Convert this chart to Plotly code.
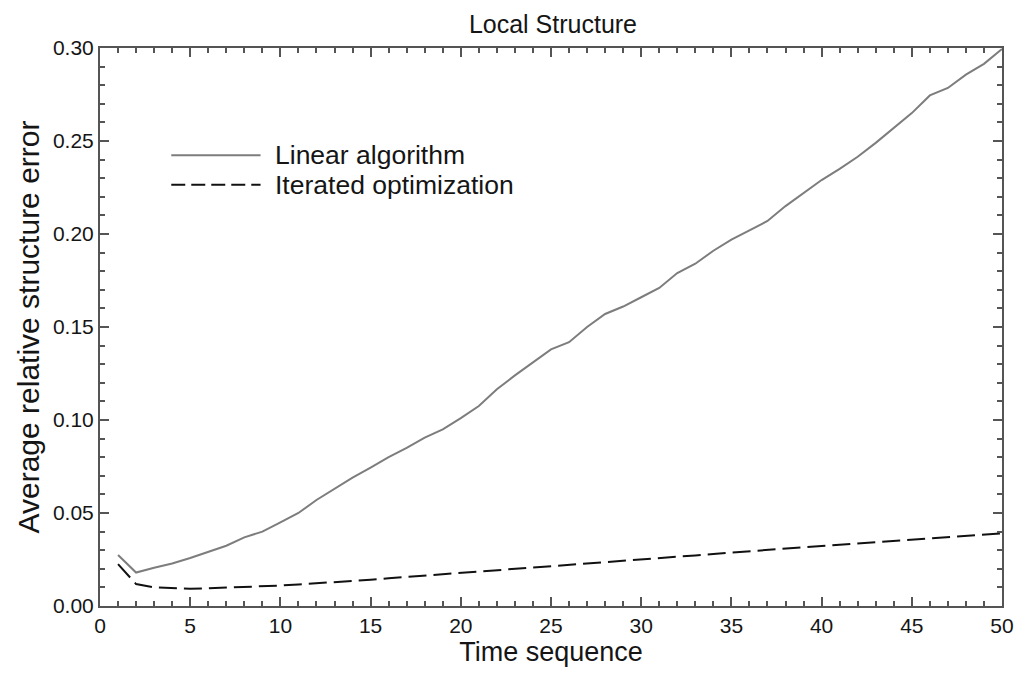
import plotly.graph_objects as go

# Time steps and average relative structure error for both methods
time_seq = list(range(1, 51))

linear_alg = [
    0.0274, 0.0180, 0.0206, 0.0229, 0.0258, 0.0290, 0.0324, 0.0369, 0.0400, 0.0450,
    0.0500, 0.0570, 0.0630, 0.0690, 0.0744, 0.0800, 0.0850, 0.0905, 0.0950, 0.1010,
    0.1075, 0.1165, 0.1240, 0.1310, 0.1380, 0.1418, 0.1500, 0.1570, 0.1610, 0.1660,
    0.1710, 0.1790, 0.1840, 0.1910, 0.1970, 0.2020, 0.2070, 0.2150, 0.2220, 0.2290,
    0.2350, 0.2415, 0.2490, 0.2570, 0.2650, 0.2745, 0.2785, 0.2857, 0.2915, 0.2995,
]

iterated_opt = [
    0.0225, 0.0118, 0.0100, 0.0095, 0.0093, 0.0095, 0.0098, 0.0102, 0.0106, 0.0110,
    0.0116, 0.0122, 0.0127, 0.0134, 0.0141, 0.0149, 0.0156, 0.0163, 0.0170, 0.0177,
    0.0184, 0.0191, 0.0199, 0.0206, 0.0216, 0.0222, 0.0229, 0.0236, 0.0243, 0.0250,
    0.0257, 0.0264, 0.0272, 0.0280, 0.0288, 0.0295, 0.0302, 0.0309, 0.0316, 0.0323,
    0.0330, 0.0337, 0.0345, 0.0352, 0.0360, 0.0367, 0.0373, 0.0379, 0.0385, 0.0391,
]

series_names = ["Linear algorithm", "Iterated optimization"]
line_colors = ["#7d7d7d", "#111111"]
dash_pattern = "18px,7px"

x_ticks = [0, 5, 10, 15, 20, 25, 30, 35, 40, 45, 50]
y_ticks = [0.00, 0.05, 0.10, 0.15, 0.20, 0.25, 0.30]

FONT = "Liberation Sans, Arial, Helvetica, sans-serif"
TEXT = "#151515"

fig = go.Figure()
fig.add_trace(go.Scatter(
    x=time_seq, y=linear_alg, mode="lines", name=series_names[0],
    line=dict(color=line_colors[0], width=2),
))
fig.add_trace(go.Scatter(
    x=time_seq, y=iterated_opt, mode="lines", name=series_names[1],
    line=dict(color=line_colors[1], width=2, dash=dash_pattern),
))

axis_common = dict(
    showline=True, linecolor="#555555", linewidth=2, mirror="allticks",
    ticks="inside", ticklen=9, tickwidth=1.5, tickcolor="#555555",
    showgrid=False, zeroline=False,
    tickfont=dict(family=FONT, size=21, color=TEXT),
)

fig.update_xaxes(
    range=[0, 50], tickvals=x_ticks, ticktext=[str(v) for v in x_ticks],
    minor=dict(dtick=1, tick0=0, ticks="inside", ticklen=5, tickcolor="#555555", showgrid=False),
    title=dict(text="Time sequence", font=dict(family=FONT, size=27, color=TEXT), standoff=2),
    **axis_common,
)
fig.update_yaxes(
    range=[0, 0.30], tickvals=y_ticks, ticktext=[f"{v:.2f}" for v in y_ticks],
    minor=dict(dtick=0.01, tick0=0, ticks="inside", ticklen=5, tickcolor="#555555", showgrid=False),
    title=dict(text="Average relative structure error", font=dict(family=FONT, size=30, color=TEXT), standoff=4),
    **axis_common,
)

# Legend drawn inside the plot area: line samples and labels
legend_rows = [(0.808, line_colors[0], "solid"), (0.755, line_colors[1], "14px,6px")]
shapes = []
annotations = []
for (ypos, col, dash), name in zip(legend_rows, series_names):
    shapes.append(dict(
        type="line", xref="paper", yref="paper", x0=0.079, x1=0.178, y0=ypos, y1=ypos,
        line=dict(color=col, width=2, dash=dash),
    ))
    annotations.append(dict(
        xref="paper", yref="paper", x=0.192, y=ypos, xanchor="left", yanchor="middle",
        text=name, showarrow=False, font=dict(family=FONT, size=26.5, color=TEXT),
    ))

fig.update_layout(
    width=1024, height=674,
    margin=dict(l=100, r=10, t=48, b=68),
    paper_bgcolor="white", plot_bgcolor="white",
    showlegend=False,
    title=dict(
        text="Local Structure", x=0.54, xanchor="center", y=1 - 24 / 674, yanchor="middle",
        font=dict(family=FONT, size=25, color=TEXT),
    ),
    shapes=shapes, annotations=annotations,
)

fig.write_html("out.html")
